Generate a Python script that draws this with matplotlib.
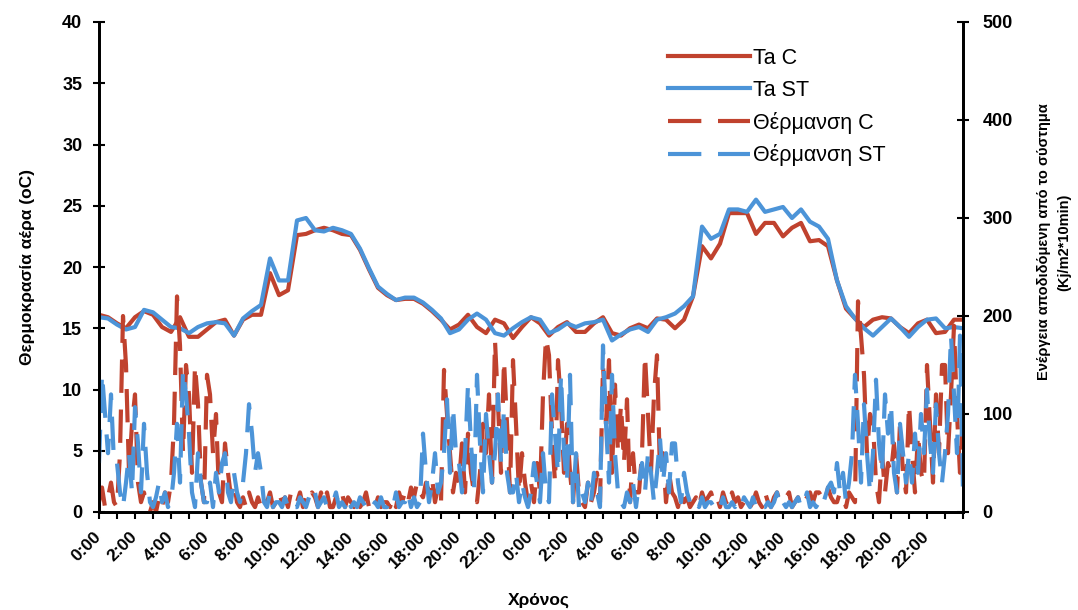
import numpy as np
import matplotlib
matplotlib.use("Agg")
import matplotlib.pyplot as plt
import matplotlib.transforms as mtransforms

# ---------------- data ----------------
# air temperature every 30 min, 0..48 h
ta_c = [16.1, 15.9, 15.4, 15.0, 15.9, 16.4, 16.1, 15.1, 14.7, 15.9,
        14.3, 14.3, 14.9, 15.5, 15.7, 14.4, 15.7, 16.1, 16.1, 19.5,
        17.7, 18.1, 22.6, 22.7, 23.0, 23.2, 23.0, 22.7, 22.6, 21.4,
        19.8, 18.3, 17.7, 17.3, 17.4, 17.4, 17.0, 16.4, 15.7, 14.9,
        15.3, 16.1, 15.1, 14.6, 15.7, 15.4, 14.2, 15.1, 15.9, 15.4,
        14.4, 15.1, 15.5, 14.7, 14.7, 15.4, 15.9, 14.6, 14.4, 15.0,
        15.3, 15.0, 15.8, 15.7, 15.0, 15.7, 17.6, 21.7, 20.7, 21.9,
        24.4, 24.4, 24.4, 22.7, 23.6, 23.6, 22.5, 23.2, 23.6, 22.1,
        22.2, 21.7, 18.9, 16.6, 15.8, 15.1, 15.7, 15.9, 15.8, 15.1,
        14.6, 15.4, 15.7, 14.6, 14.7, 15.7, 15.7]
ta_st = [15.9, 15.8, 15.3, 14.9, 15.1, 16.5, 16.3, 15.7, 15.1, 15.0,
         14.6, 15.1, 15.4, 15.5, 15.4, 14.4, 15.8, 16.4, 16.9, 20.7,
         18.9, 18.9, 23.8, 24.0, 23.0, 22.9, 23.2, 23.0, 22.7, 21.5,
         19.9, 18.4, 17.8, 17.3, 17.5, 17.5, 17.1, 16.5, 15.8, 14.6,
         14.9, 15.7, 16.2, 15.7, 14.6, 14.4, 15.0, 15.5, 15.9, 15.7,
         14.6, 14.9, 15.4, 15.1, 15.4, 15.5, 15.7, 14.0, 14.5, 14.9,
         15.1, 14.7, 15.7, 15.9, 16.2, 16.8, 17.6, 23.3, 22.3, 22.7,
         24.7, 24.7, 24.5, 25.5, 24.5, 24.7, 24.9, 24.0, 24.7, 23.7,
         23.3, 22.3, 18.9, 16.8, 15.8, 15.0, 14.4, 15.1, 15.8, 15.1,
         14.3, 15.1, 15.7, 15.8, 15.0, 15.1, 15.0]

# heating energy every 10 min, 0..48 h (kJ/m2*10min), one row per hour
heat_c = [
    10, 25, 5, 15, 30, 10,
    5, 60, 200, 150, 40, 90,
    120, 30, 10, 20, 5, 0,
    10, 0, 15, 5, 20, 10,
    30, 90, 220, 170, 60, 150,
    120, 40, 150, 110, 30, 10,
    140, 120, 60, 100, 20, 10,
    70, 40, 15, 30, 10, 5,
    15, 5, 20, 10, 5, 15,
    5, 15, 10, 20, 5, 10,
    20, 10, 15, 5, 20, 10,
    10, 20, 5, 15, 10, 20,
    15, 5, 20, 10, 20, 5,
    5, 15, 10, 20, 5, 15,
    10, 5, 15, 5, 10, 20,
    5, 10, 5, 15, 5, 10,
    10, 5, 15, 5, 20, 10,
    20, 10, 25, 15, 30, 20,
    15, 30, 20, 35, 10, 25,
    10, 145, 100, 60, 20, 40,
    30, 70, 20, 80, 40, 20,
    10, 40, 90, 60, 120, 30,
    175, 110, 40, 155, 90, 20,
    155, 90, 20, 60, 30, 10,
    30, 10, 50, 20, 120, 178,
    160, 80, 30, 155, 110, 40,
    90, 40, 10, 60, 20, 10,
    5, 30, 10, 20, 40, 10,
    150, 90, 155, 40, 130, 60,
    110, 50, 115, 10, 60, 20,
    20, 60, 160, 100, 40, 120,
    160, 40, 60, 10, 40, 20,
    15, 5, 20, 10, 15, 5,
    10, 15, 5, 20, 10, 15,
    20, 10, 15, 5, 20, 10,
    5, 20, 10, 15, 5, 10,
    15, 5, 10, 20, 10, 5,
    20, 10, 5, 15, 20, 10,
    10, 15, 20, 5, 10, 15,
    5, 10, 15, 20, 10, 20,
    20, 15, 10, 25, 15, 10,
    10, 20, 15, 5, 20, 15,
    10, 215, 180, 140, 60, 100,
    90, 30, 10, 60, 20, 50,
    40, 70, 20, 90, 40, 20,
    110, 60, 20, 80, 40, 30,
    150, 90, 30, 120, 60, 150,
    150, 60, 120, 190, 100, 40,
    100]
heat_st = [
    50, 141, 100, 60, 120, 50,
    50, 20, 5, 30, 60, 20,
    107, 70, 20, 90, 40, 10,
    5, 15, 30, 10, 20, 5,
    10, 40, 90, 30, 145, 120,
    80, 20, 5, 60, 30, 10,
    10, 30, 5, 40, 20, 50,
    60, 20, 10, 40, 20, 10,
    30, 60, 110, 80, 40, 60,
    40, 10, 5, 20, 5, 10,
    10, 5, 15, 5, 10, 5,
    5, 15, 10, 5, 15, 10,
    20, 5, 10, 15, 5, 10,
    10, 20, 5, 10, 5, 15,
    5, 10, 5, 15, 10, 5,
    10, 5, 10, 5, 15, 5,
    5, 10, 5, 20, 5, 10,
    10, 20, 5, 15, 5, 10,
    80, 40, 10, 30, 60, 20,
    30, 60, 115, 40, 107, 60,
    50, 20, 60, 130, 70, 20,
    140, 70, 20, 100, 60, 30,
    60, 120, 50, 105, 40, 20,
    20, 40, 10, 30, 15, 5,
    20, 50, 30, 10, 60, 20,
    10, 120, 80, 40, 140, 60,
    30, 140, 10, 60, 5, 20,
    10, 30, 10, 40, 20, 5,
    170, 90, 30, 140, 60, 20,
    10, 5, 20, 10, 30, 5,
    30, 50, 20, 60, 40, 10,
    40, 75, 30, 60, 20, 70,
    70, 30, 10, 40, 20, 10,
    5, 10, 5, 15, 5, 10,
    10, 5, 10, 5, 15, 5,
    5, 10, 5, 10, 5, 15,
    10, 5, 15, 5, 10, 5,
    5, 10, 5, 10, 20, 5,
    10, 5, 10, 5, 10, 15,
    5, 10, 20, 5, 10, 5,
    10, 5, 15, 25, 30, 20,
    50, 20, 40, 10, 30, 60,
    140, 90, 30, 110, 60, 20,
    60, 135, 70, 40, 120, 80,
    110, 40, 20, 90, 60, 30,
    60, 30, 80, 40, 100, 60,
    125, 70, 40, 110, 60, 30,
    60, 100, 180, 120, 60, 180,
    20]

tick_labels = [f"{h % 24}:00" for h in range(0, 48, 2)]
series_labels = ["Ta C", "Ta ST", "Θέρμανση C", "Θέρμανση ST"]

t_temp = np.arange(len(ta_c)) * 0.5
t_heat = np.arange(len(heat_c)) / 6.0

RED = "#C0422E"
BLUE = "#4C94D8"

plt.rcParams['font.family'] = ['Liberation Sans', 'DejaVu Sans']

fig = plt.figure(figsize=(10.78, 6.10), dpi=100)
ax = fig.add_axes([99/1078, 1-512/610, (963-99)/1078, (512-22)/610])
ax2 = ax.twinx()

l1, = ax.plot(t_temp, ta_c, color=RED, lw=3.0, label=series_labels[0])
l2, = ax.plot(t_temp, ta_st, color=BLUE, lw=3.0, label=series_labels[1])
l3, = ax2.plot(t_heat, heat_c, color=RED, lw=3.0, dashes=(8, 4), label=series_labels[2])
l4, = ax2.plot(t_heat, heat_st, color=BLUE, lw=3.0, dashes=(8, 4), label=series_labels[3])

ax.set_xlim(0, 48)
ax.set_ylim(0, 40)
ax2.set_ylim(0, 500)
ax.set_yticks(range(0, 41, 5))
ax2.set_yticks(range(0, 501, 100))
ax.set_xticks(range(0, 49), minor=True)
ax.set_xticks(range(0, 48, 2))
ax.set_xticklabels(tick_labels, rotation=45, ha='right', va='center',
                   rotation_mode='anchor', fontsize=12.5, fontweight='bold')
offset = mtransforms.ScaledTranslation(-13/100, 0, fig.dpi_scale_trans)
for lab in ax.get_xticklabels():
    lab.set_transform(lab.get_transform() + offset)

for a in (ax, ax2):
    a.spines['top'].set_visible(False)
    for s in ('left', 'right', 'bottom'):
        a.spines[s].set_linewidth(2)
ax.tick_params(axis='x', which='both', direction='out', length=5, width=1.5, pad=11)
ax.tick_params(axis='y', direction='inout', length=8, width=1.5, pad=8,
               labelsize=13)
ax2.tick_params(axis='y', direction='inout', length=8, width=1.5, pad=10,
                labelsize=13)
for lab in ax.get_yticklabels() + ax2.get_yticklabels():
    lab.set_fontweight('bold')

ax.set_ylabel("Θερμοκρασία αέρα (οC)", fontsize=12.5, fontweight='bold')
ax.yaxis.set_label_coords(-64/864, 0.5)
fig.text(1054/1078, 1-242/610,
         "Ενέργεια αποδιδόμενη από το σύστημα\n(Kj/m2*10min)",
         rotation=90, ha='center', va='center', ma='center',
         fontsize=10.5, fontweight='bold', linespacing=1.5)
fig.text(539/1078, 1-600/610, "Χρόνος", ha='center', va='center',
         fontsize=12.5, fontweight='bold')

leg = fig.legend([l1, l2, l3, l4], series_labels, loc='upper left',
                 bbox_to_anchor=(668/1078, 1-48/610), frameon=False,
                 fontsize=15.5, handlelength=3.8, handletextpad=0.15,
                 labelspacing=0.5, borderpad=0, borderaxespad=0)

fig.savefig("out.png", dpi=100)
